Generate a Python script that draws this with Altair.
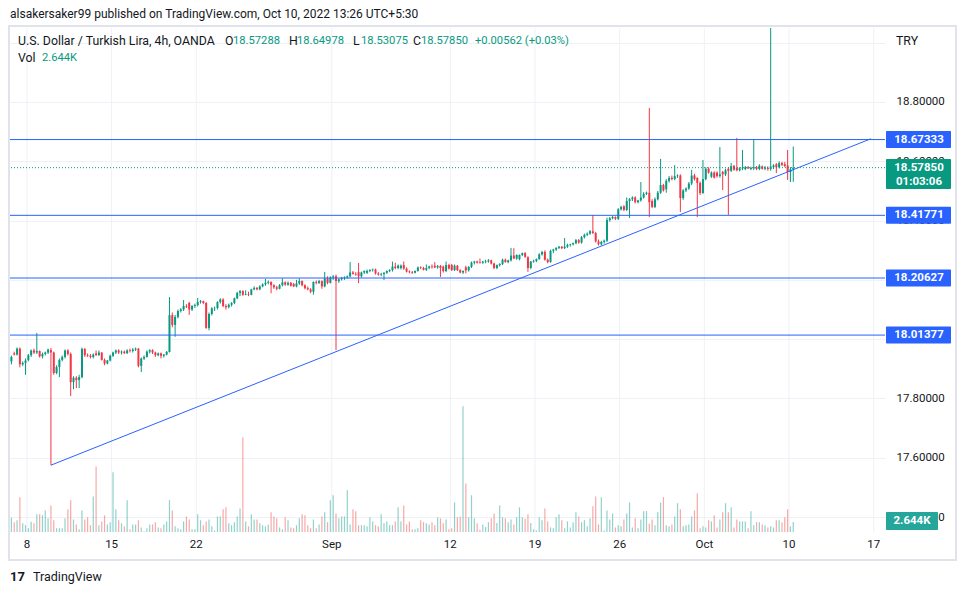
import altair as alt
import pandas as pd

# ---------------- data (USD/TRY 4h, OANDA) ----------------
opens = [
    17.925, 17.952, 17.948, 17.968, 17.915, 17.920,
    17.930, 17.946, 17.962, 17.955, 17.960, 17.942,
    17.950, 17.955, 17.963, 17.955, 17.886, 17.906,
    17.930, 17.940, 17.962, 17.950, 17.855, 17.870,
    17.862, 17.872, 17.967, 17.946, 17.944, 17.940,
    17.952, 17.946, 17.955, 17.930, 17.918, 17.928,
    17.944, 17.955, 17.962, 17.955, 17.958, 17.953,
    17.962, 17.960, 17.965, 17.968, 17.910, 17.935,
    17.940, 17.958, 17.963, 17.955, 17.946, 17.952,
    17.944, 17.948, 17.957, 18.081, 18.048, 18.075,
    18.095, 18.100, 18.112, 18.122, 18.100, 18.112,
    18.115, 18.125, 18.128, 18.122, 18.038, 18.085,
    18.104, 18.105, 18.125, 18.134, 18.112, 18.108,
    18.116, 18.122, 18.138, 18.156, 18.162, 18.150,
    18.152, 18.150, 18.168, 18.173, 18.168, 18.178,
    18.185, 18.190, 18.193, 18.182, 18.175, 18.170,
    18.182, 18.192, 18.184, 18.190, 18.186, 18.178,
    18.188, 18.196, 18.182, 18.172, 18.168, 18.160,
    18.193, 18.190, 18.196, 18.178, 18.205, 18.190,
    18.208, 18.212, 18.196, 18.202, 18.206, 18.208,
    18.212, 18.225, 18.220, 18.226, 18.212, 18.225,
    18.224, 18.230, 18.233, 18.235, 18.222, 18.218,
    18.220, 18.224, 18.230, 18.233, 18.245, 18.240,
    18.240, 18.250, 18.238, 18.228, 18.226, 18.224,
    18.230, 18.242, 18.240, 18.234, 18.240, 18.245,
    18.248, 18.242, 18.247, 18.245, 18.230, 18.250,
    18.250, 18.233, 18.248, 18.233, 18.225, 18.242,
    18.232, 18.244, 18.258, 18.262, 18.260, 18.258,
    18.262, 18.262, 18.266, 18.255, 18.240, 18.250,
    18.254, 18.268, 18.260, 18.266, 18.282, 18.272,
    18.270, 18.284, 18.290, 18.276, 18.240, 18.262,
    18.264, 18.270, 18.286, 18.294, 18.268, 18.260,
    18.298, 18.302, 18.308, 18.312, 18.307, 18.312,
    18.318, 18.320, 18.324, 18.334, 18.326, 18.344,
    18.352, 18.356, 18.364, 18.358, 18.330, 18.320,
    18.328, 18.332, 18.402, 18.408, 18.412, 18.406,
    18.438, 18.448, 18.436, 18.466, 18.472, 18.478,
    18.462, 18.468, 18.478, 18.490, 18.494, 18.466,
    18.446, 18.472, 18.494, 18.520, 18.506, 18.534,
    18.544, 18.540, 18.550, 18.552, 18.476, 18.502,
    18.508, 18.525, 18.552, 18.544, 18.527, 18.493,
    18.540, 18.575, 18.548, 18.562, 18.562, 18.550,
    18.564, 18.556, 18.575, 18.568, 18.584, 18.578,
    18.570, 18.576, 18.574, 18.580, 18.574, 18.576,
    18.580, 18.574, 18.582, 18.575, 18.577, 18.574,
    18.580, 18.590, 18.580, 18.594, 18.590, 18.586,
    18.564, 18.57288,
]

highs = [
    17.945, 17.958, 17.972, 17.972, 17.925, 17.935,
    17.950, 17.965, 17.968, 18.021, 17.962, 17.955,
    17.958, 17.968, 17.970, 17.958, 17.912, 17.935,
    17.945, 17.965, 17.966, 17.955, 17.875, 17.875,
    17.880, 17.972, 17.970, 17.952, 17.950, 17.952,
    17.962, 17.962, 17.956, 17.935, 17.930, 17.948,
    17.958, 17.965, 17.966, 17.962, 17.962, 17.966,
    17.968, 17.970, 17.972, 17.970, 17.938, 17.945,
    17.962, 17.966, 17.966, 17.958, 17.955, 17.955,
    17.950, 17.960, 18.142, 18.090, 18.082, 18.100,
    18.105, 18.132, 18.118, 18.126, 18.115, 18.120,
    18.139, 18.132, 18.130, 18.125, 18.090, 18.108,
    18.110, 18.128, 18.138, 18.138, 18.118, 18.120,
    18.125, 18.140, 18.160, 18.166, 18.165, 18.165,
    18.160, 18.170, 18.178, 18.176, 18.182, 18.188,
    18.203, 18.198, 18.195, 18.185, 18.180, 18.186,
    18.205, 18.195, 18.195, 18.193, 18.190, 18.200,
    18.205, 18.198, 18.185, 18.178, 18.172, 18.195,
    18.198, 18.200, 18.198, 18.227, 18.212, 18.212,
    18.216, 18.218, 18.205, 18.210, 18.212, 18.215,
    18.260, 18.230, 18.226, 18.257, 18.228, 18.232,
    18.235, 18.236, 18.238, 18.238, 18.226, 18.224,
    18.226, 18.232, 18.236, 18.262, 18.258, 18.252,
    18.252, 18.262, 18.242, 18.232, 18.230, 18.232,
    18.245, 18.246, 18.244, 18.252, 18.248, 18.252,
    18.260, 18.250, 18.250, 18.248, 18.262, 18.254,
    18.254, 18.252, 18.250, 18.236, 18.232, 18.248,
    18.246, 18.262, 18.264, 18.265, 18.272, 18.264,
    18.268, 18.270, 18.268, 18.258, 18.252, 18.256,
    18.272, 18.272, 18.268, 18.308, 18.307, 18.286,
    18.286, 18.292, 18.294, 18.280, 18.264, 18.268,
    18.272, 18.290, 18.298, 18.300, 18.272, 18.302,
    18.305, 18.310, 18.314, 18.314, 18.341, 18.322,
    18.322, 18.326, 18.338, 18.338, 18.348, 18.356,
    18.360, 18.368, 18.419, 18.362, 18.336, 18.332,
    18.336, 18.410, 18.412, 18.416, 18.414, 18.442,
    18.450, 18.452, 18.478, 18.476, 18.482, 18.482,
    18.470, 18.530, 18.496, 18.498, 18.780, 18.472,
    18.478, 18.500, 18.608, 18.524, 18.540, 18.550,
    18.552, 18.587, 18.556, 18.556, 18.506, 18.512,
    18.530, 18.571, 18.558, 18.546, 18.532, 18.604,
    18.580, 18.580, 18.566, 18.566, 18.566, 18.648,
    18.568, 18.575, 18.580, 18.594, 18.588, 18.679,
    18.580, 18.638, 18.584, 18.584, 18.582, 18.675,
    18.584, 18.590, 18.586, 18.584, 18.583, 19.060,
    18.590, 18.594, 18.600, 18.598, 18.598, 18.638,
    18.580, 18.64978,
]

lows = [
    17.915, 17.945, 17.945, 17.905, 17.910, 17.880,
    17.925, 17.940, 17.950, 17.950, 17.938, 17.935,
    17.945, 17.950, 17.575, 17.880, 17.882, 17.872,
    17.925, 17.935, 17.945, 17.808, 17.831, 17.835,
    17.835, 17.868, 17.940, 17.940, 17.935, 17.935,
    17.944, 17.944, 17.928, 17.912, 17.915, 17.925,
    17.940, 17.950, 17.950, 17.948, 17.950, 17.950,
    17.955, 17.955, 17.960, 17.905, 17.889, 17.930,
    17.938, 17.952, 17.950, 17.940, 17.942, 17.935,
    17.938, 17.945, 17.955, 18.040, 18.008, 18.070,
    18.090, 18.095, 18.105, 18.082, 18.095, 18.105,
    18.110, 18.120, 18.118, 18.035, 18.030, 18.080,
    18.095, 18.100, 18.120, 18.108, 18.100, 18.104,
    18.110, 18.118, 18.135, 18.145, 18.146, 18.148,
    18.145, 18.148, 18.165, 18.165, 18.165, 18.175,
    18.180, 18.185, 18.155, 18.170, 18.165, 18.168,
    18.178, 18.180, 18.180, 18.178, 18.176, 18.175,
    18.183, 18.178, 18.168, 18.165, 18.155, 18.150,
    18.185, 18.186, 18.170, 18.175, 18.185, 18.188,
    18.200, 17.963, 18.190, 18.198, 18.200, 18.204,
    18.208, 18.218, 18.214, 18.189, 18.208, 18.220,
    18.220, 18.226, 18.228, 18.218, 18.214, 18.212,
    18.200, 18.220, 18.226, 18.228, 18.236, 18.236,
    18.235, 18.234, 18.225, 18.222, 18.220, 18.222,
    18.228, 18.236, 18.232, 18.230, 18.236, 18.238,
    18.240, 18.238, 18.210, 18.225, 18.226, 18.235,
    18.230, 18.230, 18.230, 18.222, 18.220, 18.222,
    18.228, 18.240, 18.252, 18.255, 18.255, 18.254,
    18.256, 18.258, 18.252, 18.236, 18.236, 18.245,
    18.250, 18.258, 18.256, 18.262, 18.270, 18.268,
    18.266, 18.280, 18.274, 18.227, 18.236, 18.258,
    18.260, 18.268, 18.282, 18.265, 18.256, 18.258,
    18.290, 18.298, 18.304, 18.304, 18.304, 18.308,
    18.312, 18.316, 18.320, 18.322, 18.322, 18.340,
    18.348, 18.352, 18.355, 18.326, 18.316, 18.316,
    18.322, 18.328, 18.396, 18.404, 18.402, 18.402,
    18.434, 18.432, 18.432, 18.409, 18.466, 18.458,
    18.458, 18.464, 18.474, 18.486, 18.412, 18.442,
    18.442, 18.468, 18.490, 18.498, 18.494, 18.528,
    18.536, 18.536, 18.544, 18.429, 18.470, 18.496,
    18.504, 18.520, 18.535, 18.412, 18.486, 18.490,
    18.536, 18.558, 18.544, 18.542, 18.545, 18.545,
    18.503, 18.550, 18.419, 18.564, 18.568, 18.566,
    18.566, 18.570, 18.570, 18.574, 18.570, 18.570,
    18.570, 18.570, 18.572, 18.570, 18.568, 18.568,
    18.574, 18.560, 18.576, 18.584, 18.580, 18.537,
    18.530, 18.53075,
]

closes = [
    17.940, 17.948, 17.968, 17.915, 17.920, 17.928,
    17.946, 17.962, 17.955, 17.960, 17.942, 17.950,
    17.955, 17.965, 17.955, 17.886, 17.906, 17.930,
    17.940, 17.962, 17.950, 17.855, 17.870, 17.862,
    17.872, 17.967, 17.946, 17.944, 17.940, 17.948,
    17.946, 17.955, 17.930, 17.918, 17.928, 17.944,
    17.955, 17.962, 17.955, 17.958, 17.953, 17.962,
    17.960, 17.965, 17.968, 17.910, 17.935, 17.940,
    17.958, 17.963, 17.955, 17.946, 17.952, 17.944,
    17.948, 17.957, 18.081, 18.048, 18.075, 18.095,
    18.100, 18.112, 18.110, 18.100, 18.112, 18.115,
    18.125, 18.128, 18.122, 18.038, 18.085, 18.104,
    18.105, 18.125, 18.134, 18.112, 18.108, 18.116,
    18.122, 18.138, 18.156, 18.162, 18.150, 18.152,
    18.150, 18.168, 18.173, 18.168, 18.178, 18.185,
    18.190, 18.193, 18.182, 18.175, 18.170, 18.182,
    18.192, 18.184, 18.190, 18.180, 18.178, 18.188,
    18.196, 18.182, 18.172, 18.168, 18.160, 18.193,
    18.190, 18.196, 18.178, 18.205, 18.190, 18.208,
    18.212, 18.196, 18.202, 18.206, 18.208, 18.212,
    18.225, 18.220, 18.218, 18.212, 18.225, 18.230,
    18.230, 18.233, 18.235, 18.222, 18.218, 18.220,
    18.224, 18.230, 18.233, 18.245, 18.240, 18.248,
    18.248, 18.238, 18.228, 18.226, 18.224, 18.230,
    18.242, 18.240, 18.234, 18.240, 18.245, 18.243,
    18.242, 18.247, 18.240, 18.230, 18.250, 18.238,
    18.233, 18.248, 18.233, 18.225, 18.230, 18.232,
    18.244, 18.258, 18.262, 18.258, 18.258, 18.262,
    18.264, 18.266, 18.255, 18.240, 18.250, 18.254,
    18.268, 18.260, 18.266, 18.282, 18.272, 18.284,
    18.284, 18.290, 18.278, 18.240, 18.262, 18.264,
    18.270, 18.286, 18.294, 18.268, 18.260, 18.298,
    18.302, 18.308, 18.312, 18.307, 18.312, 18.318,
    18.320, 18.324, 18.334, 18.326, 18.344, 18.352,
    18.356, 18.364, 18.358, 18.330, 18.320, 18.328,
    18.332, 18.402, 18.408, 18.412, 18.406, 18.438,
    18.446, 18.436, 18.466, 18.472, 18.478, 18.462,
    18.468, 18.478, 18.490, 18.494, 18.462, 18.446,
    18.472, 18.494, 18.520, 18.502, 18.534, 18.544,
    18.540, 18.550, 18.552, 18.476, 18.502, 18.508,
    18.525, 18.552, 18.540, 18.527, 18.493, 18.540,
    18.575, 18.562, 18.562, 18.545, 18.550, 18.556,
    18.556, 18.570, 18.568, 18.584, 18.572, 18.570,
    18.576, 18.578, 18.580, 18.576, 18.578, 18.580,
    18.574, 18.585, 18.575, 18.579, 18.574, 18.582,
    18.586, 18.580, 18.594, 18.588, 18.584, 18.564,
    18.57288, 18.5785,
]

# volume in thousands
volumes = [
    3.8, 2.6, 3.1, 9.2, 2.3, 1.8, 1.0, 2.7, 2.3, 4.7,
    4.7, 4.4, 5.7, 3.6, 7.0, 3.1, 1.0, 1.0, 1.0, 3.6,
    6.0, 8.4, 3.3, 2.0, 0.7, 5.7, 3.3, 3.9, 1.8, 9.4,
    17.3, 1.8, 2.8, 4.4, 2.0, 2.6, 15.8, 6.0, 3.1, 2.3,
    1.5, 8.4, 0.7, 2.0, 2.0, 3.1, 1.2, 0.2, 1.0, 2.0,
    2.0, 2.6, 1.2, 1.0, 2.0, 2.8, 8.4, 5.7, 1.5, 1.0,
    0.7, 2.8, 4.1, 3.3, 0.7, 0.7, 4.7, 3.1, 1.8, 2.8,
    3.3, 1.5, 0.4, 4.1, 4.1, 6.0, 6.5, 2.3, 1.8, 2.6,
    4.1, 6.2, 25.0, 2.8, 1.5, 4.7, 3.3, 3.3, 2.3, 1.8,
    1.5, 2.0, 5.2, 4.1, 3.6, 1.2, 0.7, 3.9, 3.1, 1.2,
    1.0, 1.8, 3.6, 4.7, 4.4, 1.8, 1.0, 3.3, 1.0, 2.0,
    4.1, 5.2, 2.6, 8.4, 9.7, 4.9, 3.6, 4.1, 4.1, 11.0,
    2.0, 6.0, 5.5, 1.8, 1.8, 1.8, 1.5, 3.9, 2.8, 1.8,
    1.5, 4.7, 2.3, 2.8, 1.8, 1.8, 2.8, 6.5, 2.8, 7.0,
    2.0, 2.8, 0.7, 0.7, 1.0, 3.1, 2.6, 2.3, 2.0, 2.6,
    1.8, 3.9, 3.6, 2.3, 3.3, 0.7, 1.0, 7.8, 3.9, 4.1,
    33.2, 12.8, 3.9, 9.7, 3.6, 2.3,
    0.6, 2.0, 1.3, 2.6, 3.6, 4.9, 2.4, 7.0, 3.9, 3.6,
    2.6, 3.3, 2.0, 3.9, 6.5, 3.9, 3.5, 4.7, 2.4, 0.7,
    0.4, 3.9, 3.1, 6.2, 2.8, 1.2, 1.0, 3.9, 4.7, 3.1,
    1.0, 2.8, 1.2, 2.6, 5.2, 4.1, 2.6, 3.1, 1.5, 3.6,
    6.8, 9.4, 2.0, 9.2, 0.4, 5.7, 3.3, 4.9, 1.2, 1.8,
    1.5, 3.3, 4.9, 7.8, 1.2, 3.6, 1.0, 3.3, 5.5, 5.5,
    2.2, 3.3, 1.8, 5.2, 7.8, 9.2, 1.8, 1.5, 2.0, 4.1,
    7.6, 6.0, 1.5, 1.8, 2.0, 4.1, 5.7, 10.2, 1.0, 1.5,
    1.2, 3.1, 2.8, 4.4, 1.2, 3.3, 5.2, 7.6, 5.2, 6.5,
    1.2, 3.3, 2.8, 2.8, 2.8, 1.0, 5.5, 1.8, 2.6, 2.6,
    2.0, 1.8, 1.2, 1.5, 1.2, 3.1, 3.1, 2.6, 3.9, 6.0,
    1.5, 2.644,
]

level_values = [18.67333, 18.41771, 18.20627, 18.01377]
trend_t = [14.5, 305.0]
trend_p = [17.575, 18.676]
tick_pos = [6, 36, 66, 114, 156, 186, 216, 246, 276, 306]
tick_labels = ["8", "15", "22", "Sep", "12", "19", "26", "Oct", "10", "17"]
price_ticks = [17.4, 17.6, 17.8, 18.0, 18.2, 18.4, 18.6, 18.8, 19.0]
countdown = "01:03:06"
header = "alsakersaker99 published on TradingView.com, Oct 10, 2022 13:26 UTC+5:30"
symbol_title = "U.S. Dollar / Turkish Lira, 4h, OANDA"
change_text = "+0.00562 (+0.03%)"

# ---------------- styling ----------------
UP = "#089981"
DOWN = "#f23645"
VUP = "#26a69a"
VDOWN = "#ef5350"
BLUE = "#2962ff"
INK = "#131722"
GRID = "#eef1f6"
FRAME = "#e0e3eb"
FONT = "Roboto"

n = len(closes)
df = pd.DataFrame({
    "t": [i + 0.5 for i in range(n)],
    "o": opens, "h": highs, "l": lows, "c": closes, "v": volumes,
})
df["dir"] = ["up" if c >= o else "down" for o, c in zip(opens, closes)]

XS = alt.Scale(domain=[0, 310], nice=False, zero=False, padding=0)
YS = alt.Scale(domain=[17.3496, 19.0496], nice=False, zero=False, padding=0)
VS = alt.Scale(domain=[0, 133], nice=False, zero=True, padding=0)

# price labels hidden behind the level boxes (18.0, 18.2) and the currency tag (19.0) are blanked
yaxis = alt.Axis(orient="right", values=price_ticks,
                 labelExpr="(datum.value > 18.9 || abs(datum.value - 18.0) < 0.01 || abs(datum.value - 18.2) < 0.01) ? '' : format(datum.value, '.5f')",
                 grid=True, gridColor=GRID, gridWidth=1, domain=False, ticks=False, labelPadding=11,
                 labelFontSize=11.5, labelColor=INK, labelFont=FONT, title=None,
                 labelOverlap=False)

col = alt.Color("dir:N", scale=alt.Scale(domain=["up", "down"], range=[UP, DOWN]), legend=None)
vcol = alt.Color("dir:N", scale=alt.Scale(domain=["up", "down"], range=[VUP, VDOWN]), legend=None)

ticks_df = pd.DataFrame({"t": tick_pos, "label": tick_labels})
vgrid = alt.Chart(ticks_df).mark_rule(color=GRID, strokeWidth=1).encode(
    x=alt.X("t:Q", scale=XS, axis=None))
xlabels = alt.Chart(ticks_df).mark_text(color=INK, fontSize=11.5, font=FONT, align="center",
                                        baseline="middle").encode(
    x=alt.X("t:Q", scale=XS, axis=None), y=alt.value(517), text="label:N")

vol_bars = alt.Chart(df).mark_bar(size=1.2, opacity=0.5).encode(
    x=alt.X("t:Q", scale=XS, axis=None),
    y=alt.Y("v:Q", scale=VS, axis=None),
    color=vcol,
)
wicks = alt.Chart(df).mark_rule(strokeWidth=1, clip=True).encode(
    x=alt.X("t:Q", scale=XS, axis=None),
    y=alt.Y("l:Q", scale=YS, axis=yaxis),
    y2="h:Q",
    color=col,
)
bodies = alt.Chart(df).mark_bar(size=2, clip=True).encode(
    x=alt.X("t:Q", scale=XS, axis=None),
    y=alt.Y("o:Q", scale=YS, axis=None),
    y2="c:Q",
    color=col,
)

lines_df = pd.DataFrame({"p": level_values})
hlines = alt.Chart(lines_df).mark_rule(color=BLUE, strokeWidth=1).encode(
    y=alt.Y("p:Q", scale=YS, axis=None))
trend_df = pd.DataFrame({"t": trend_t, "p": trend_p})
trend = alt.Chart(trend_df).mark_line(color=BLUE, strokeWidth=1).encode(
    x=alt.X("t:Q", scale=XS, axis=None), y=alt.Y("p:Q", scale=YS, axis=None))

cur_df = pd.DataFrame({"p": [closes[-1]]})
dotline = alt.Chart(cur_df).mark_rule(color=UP, strokeWidth=1, strokeDash=[1, 2]).encode(
    y=alt.Y("p:Q", scale=YS, axis=None))

boxes = alt.Chart(lines_df).mark_rect(color=BLUE, yOffset=-8.5, y2Offset=8.5, cornerRadius=1).encode(
    x=alt.value(876), x2=alt.value(941), y=alt.Y("p:Q", scale=YS, axis=None), y2="p:Q")
box_text = alt.Chart(lines_df).mark_text(color="white", fontWeight="bold", fontSize=11.5, font=FONT,
                                         align="center", baseline="middle").encode(
    x=alt.value(909), y=alt.Y("p:Q", scale=YS, axis=None), text=alt.Text("p:Q", format=".5f"))

cur_box = alt.Chart(cur_df).mark_rect(color=UP, yOffset=-8.7, y2Offset=21.3, cornerRadius=1).encode(
    x=alt.value(876), x2=alt.value(941), y=alt.Y("p:Q", scale=YS, axis=None), y2="p:Q")
cur_text = alt.Chart(cur_df).mark_text(color="white", fontWeight="bold", fontSize=11.5, font=FONT,
                                       align="center", baseline="middle").encode(
    x=alt.value(909), y=alt.Y("p:Q", scale=YS, axis=None), text=alt.Text("p:Q", format=".5f"))
cur_text2 = alt.Chart(cur_df).mark_text(color="white", fontWeight="bold", fontSize=11.5, font=FONT,
                                        align="center", baseline="middle", dy=14, text=countdown).encode(
    x=alt.value(909), y=alt.Y("p:Q", scale=YS, axis=None))

vlast = pd.DataFrame({"v": [volumes[-1]]})
vol_box = alt.Chart(vlast).mark_rect(color=VUP, yOffset=-10, y2Offset=8, cornerRadius=1).encode(
    x=alt.value(876), x2=alt.value(928), y=alt.Y("v:Q", scale=VS, axis=None), y2="v:Q")
vol_text = alt.Chart(vlast).mark_text(color="white", fontWeight="bold", fontSize=11.5, font=FONT,
                                      align="center", baseline="middle", dy=-1,
                                      text="{:.3f}K".format(volumes[-1])).encode(
    x=alt.value(902), y=alt.Y("v:Q", scale=VS, axis=None))

one = pd.DataFrame({"k": [0]})


def txt(s, x, y, color=INK, size=12, weight="normal", align="left"):
    return alt.Chart(one).mark_text(text=s, align=align, baseline="middle", color=color,
                                    fontSize=size, fontWeight=weight, font=FONT).encode(
        x=alt.value(x), y=alt.value(y))


fmt = "{:.5f}"
NUM = 11.2
texts = [
    txt(header, 0, -14, size=12),
    txt(symbol_title, 8, 13, size=12.3),
    txt("O", 215, 13, size=12.3), txt(fmt.format(opens[-1]), 223, 13, color=UP, size=NUM),
    txt("H", 279, 13, size=12.3), txt(fmt.format(highs[-1]), 287, 13, color=UP, size=NUM),
    txt("L", 343, 13, size=12.3), txt(fmt.format(lows[-1]), 351, 13, color=UP, size=NUM),
    txt("C", 403, 13, size=12.3), txt(fmt.format(closes[-1]), 411, 13, color=UP, size=NUM),
    txt(change_text, 465, 13, color=UP, size=NUM),
    txt("Vol", 8, 30, size=12.3),
    txt("{:.3f}K".format(volumes[-1]), 32, 30, color=UP, size=NUM),
    txt("TRY", 886, 13, size=12.3),
    txt("17", 0, 549, size=13, weight="bold"),
    txt("TradingView", 23, 549, size=12.5),
]

frame = alt.Chart(one).mark_rect(fillOpacity=0, stroke=FRAME, strokeWidth=2).encode(
    x=alt.value(-1), x2=alt.value(946), y=alt.value(-2), y2=alt.value(532))

chart = alt.layer(
    vgrid, xlabels,
    vol_bars, vol_box, vol_text,
    wicks, bodies, hlines, trend, dotline, boxes, box_text,
    cur_box, cur_text, cur_text2, frame, *texts
).resolve_scale(
    y="independent", color="independent"
).properties(
    width=875, height=504,
    padding={"left": 10, "top": 28, "right": 81, "bottom": 63},
    autosize=alt.AutoSizeParams(type="none"),
    background="white",
).configure_view(stroke=None)

chart.save("out.html", embed_options={"renderer": "svg", "actions": False})
